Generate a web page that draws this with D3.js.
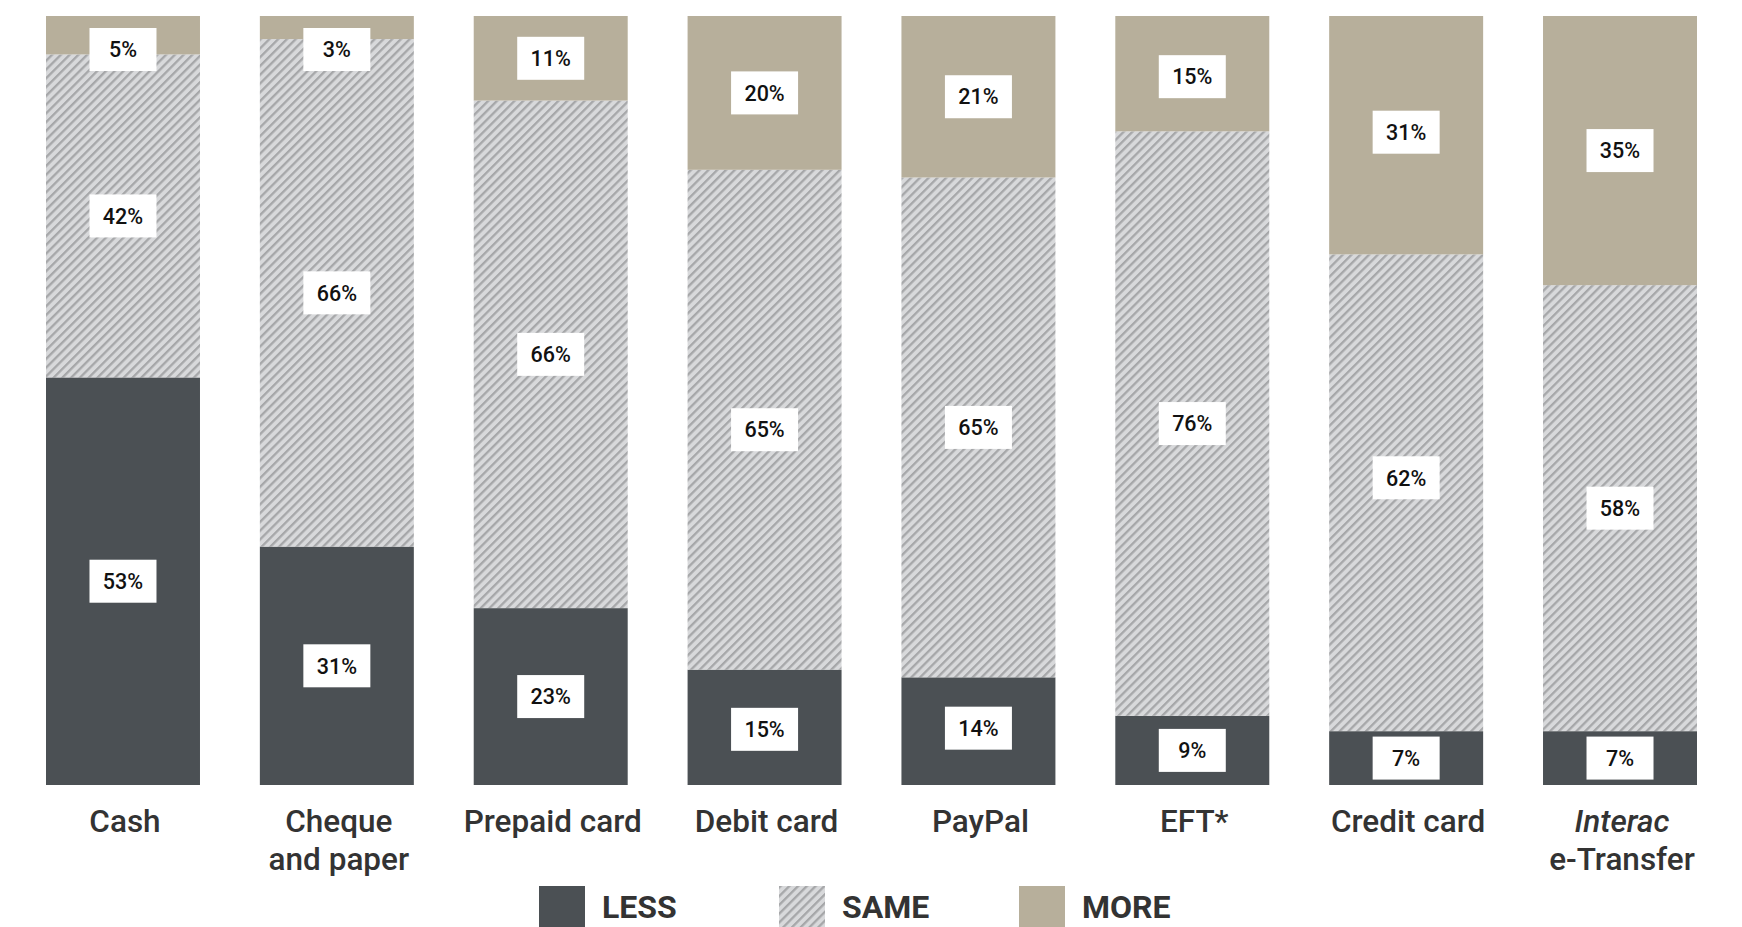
<!DOCTYPE html>
<html>
<head>
<meta charset="utf-8">
<script src="https://cdn.jsdelivr.net/npm/d3@7"></script>
<style>
  html, body { margin: 0; padding: 0; background: #fff; }
  svg { display: block; font-family: Roboto, "Noto Sans", sans-serif; }
</style>
</head>
<body>
<svg id="chart" width="1742" height="927"></svg>
<script>
const categories = ["Cash", "Cheque\nand paper", "Prepaid card", "Debit card", "PayPal", "EFT*", "Credit card", "Interac\ne-Transfer"];
const lessValues = [53, 31, 23, 15, 14, 9, 7, 7];
const sameValues = [42, 66, 66, 65, 65, 76, 62, 58];
const moreValues = [5, 3, 11, 20, 21, 15, 31, 35];
const seriesNames = ["LESS", "SAME", "MORE"];

const W = 1742, H = 927;
const svg = d3.select("#chart");

const colors = { LESS: "#4b5054", SAME: "url(#hatch)", MORE: "#b7af9b" };

// small manual label nudges (px) as in the original layout
const labelNudge = { "Debit card|SAME": 10, "Credit card|SAME": -15, "EFT*|MORE": 3, "Credit card|MORE": -3, "PayPal|LESS": -3, "Debit card|LESS": 2 };

const defs = svg.append("defs");
const P = 6.2;
const pat = defs.append("pattern")
  .attr("id", "hatch")
  .attr("patternUnits", "userSpaceOnUse")
  .attr("width", P).attr("height", P)
  .attr("patternTransform", "rotate(45)");
pat.append("rect").attr("width", P).attr("height", P).attr("fill", "#d8d9db");
pat.append("line").attr("x1", 0).attr("y1", 0).attr("x2", 0).attr("y2", P)
  .attr("stroke", "#a6a7a9").attr("stroke-width", 4.6);

const x = d3.scaleBand().domain(categories).range([46, 1697]).paddingInner(0.28).paddingOuter(0);
const y = d3.scaleLinear().domain([0, 100]).range([785, 16]);

const rows = categories.map((c, i) => ({ cat: c, LESS: lessValues[i], SAME: sameValues[i], MORE: moreValues[i] }));
const stack = d3.stack().keys(seriesNames)(rows);

const g = svg.append("g");
stack.forEach(layer => {
  g.selectAll(null).data(layer).enter().append("rect")
    .attr("x", d => x(d.data.cat))
    .attr("width", x.bandwidth())
    .attr("y", d => y(d[1]))
    .attr("height", d => y(d[0]) - y(d[1]))
    .attr("fill", colors[layer.key]);
});

// value labels
const boxW = 67, boxH = 43;
stack.forEach(layer => {
  const lg = g.selectAll(null).data(layer).enter().append("g")
    .attr("transform", d => {
      let cy = (y(d[0]) + y(d[1])) / 2;
      cy = Math.max(cy, y(100) + 33.5);
      cy += labelNudge[d.data.cat + "|" + layer.key] || 0;
      return `translate(${x(d.data.cat) + x.bandwidth() / 2},${cy})`;
    });
  lg.append("rect").attr("x", -boxW / 2).attr("y", -boxH / 2).attr("width", boxW).attr("height", boxH).attr("fill", "#fff");
  lg.append("text").attr("text-anchor", "middle").attr("dy", "0.36em")
    .attr("font-size", 21.5).attr("font-weight", 500).attr("fill", "#111")
    .text(d => (d[1] - d[0]) + "%");
});

// category labels
const cl = svg.append("g");
categories.forEach(c => {
  const lines = c.split("\n");
  const cx = x(c) + x.bandwidth() / 2 + 2;
  const t = cl.append("text").attr("text-anchor", "middle")
    .attr("x", cx)
    .attr("y", 831.5)
    .attr("font-size", 31.5).attr("font-weight", 500).attr("fill", "#333");
  lines.forEach((ln, j) => {
    t.append("tspan").attr("x", cx).attr("dy", j === 0 ? 0 : 38.5)
      .attr("font-style", ln === "Interac" ? "italic" : null)
      .text(ln);
  });
});

// legend
const legX = d3.scalePoint().domain(seriesNames).range([539, 1019]);
const leg = svg.append("g").selectAll("g").data(seriesNames).enter().append("g")
  .attr("transform", d => `translate(${legX(d)},886)`);
leg.append("rect").attr("width", 46).attr("height", 46).attr("fill", d => colors[d]);
leg.append("text").attr("x", 63).attr("y", 32).attr("font-size", 32).attr("font-weight", 700).attr("fill", "#333").text(d => d);
</script>
</body>
</html>
